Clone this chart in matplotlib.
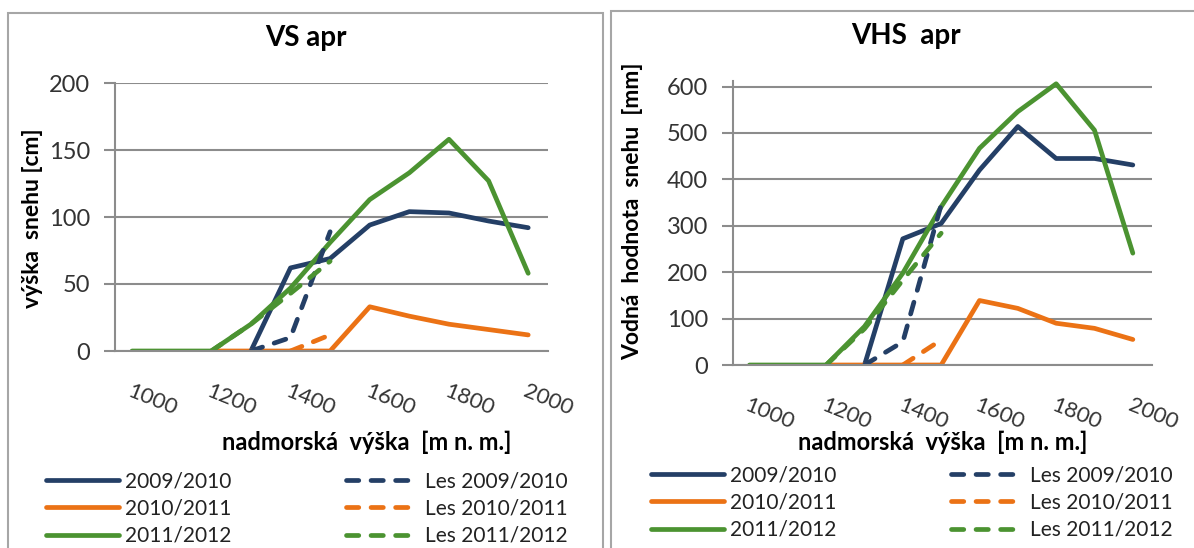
import numpy as np
import matplotlib
matplotlib.use("Agg")
import matplotlib.pyplot as plt
from matplotlib.patches import Rectangle
from matplotlib.lines import Line2D

plt.rcParams['font.family'] = ['Lato', 'DejaVu Sans']

nan = np.nan
elev = [1000, 1100, 1200, 1300, 1400, 1500, 1600, 1700, 1800, 1900, 2000]
tick_labels = ['1000', '1200', '1400', '1600', '1800', '2000']

# VS apr - snow depth [cm]
vs_0910 = [nan, nan, nan, 0, 62, 69, 94, 104, 103, 97, 92]
vs_1011 = [nan, nan, 0, 0, 0, 0, 33, 26, 20, 16, 12]
vs_1112 = [0, 0, 0, 20, 47, 81, 113, 133, 158, 127, 58]
vs_les_0910 = [nan, nan, nan, 0, 10, 89, nan, nan, nan, nan, nan]
vs_les_1011 = [nan, nan, nan, nan, 0, 12, nan, nan, nan, nan, nan]
vs_les_1112 = [nan, nan, 0, 20, 43, 67, nan, nan, nan, nan, nan]

# VHS apr - snow water equivalent [mm]
vhs_0910 = [nan, nan, nan, 0, 272, 305, 420, 514, 445, 445, 431]
vhs_1011 = [nan, nan, 0, 0, 0, 0, 139, 122, 90, 79, 55]
vhs_1112 = [0, 0, 0, 83, 198, 341, 467, 546, 606, 506, 241]
vhs_les_0910 = [nan, nan, nan, 0, 50, 345, nan, nan, nan, nan, nan]
vhs_les_1011 = [nan, nan, nan, nan, 0, 54, nan, nan, nan, nan, nan]
vhs_les_1112 = [nan, nan, 0, 78, 183, 284, nan, nan, nan, nan, nan]

labels = ['2009/2010', '2010/2011', '2011/2012',
          'Les 2009/2010', 'Les 2010/2011', 'Les 2011/2012']
colors = ['#243F66', '#EB7215', '#4B9331']
grid_c = '#8C8C8C'
LW = 3.4
DASH = (0, (2.6, 2.6))
W, H = 1194, 548

fig = plt.figure(figsize=(W / 100, H / 100), dpi=100)


def fx(p):
    return p / W


def fy(p):
    return 1 - p / H


# panel borders
fig.patches.append(Rectangle((fx(8), fy(560)), fx(603) - fx(8), fy(13) - fy(560),
                             transform=fig.transFigure, fill=False, ec='#A6A6A6', lw=1.5))
fig.patches.append(Rectangle((fx(611), fy(560)), fx(1210) - fx(611), fy(11) - fy(560),
                             transform=fig.transFigure, fill=False, ec='#A6A6A6', lw=1.5))


def draw(ax, solid, dashed, ymax, ystep):
    x = np.arange(len(elev))
    for vals, c in zip(solid, colors):
        ax.plot(x, vals, color=c, lw=LW, solid_capstyle='round', solid_joinstyle='round')
    for vals, c in zip(dashed, colors):
        ax.plot(x, vals, color=c, lw=LW, ls=DASH, dash_capstyle='round')
    ax.set_xlim(-0.43, 10.5)
    ax.set_ylim(0, ymax)
    ax.set_yticks(np.arange(0, ymax + 1, ystep))
    ax.grid(axis='y', color=grid_c, lw=1.5)
    ax.set_axisbelow(True)
    for s in ['top', 'right']:
        ax.spines[s].set_visible(False)
    for s in ['left', 'bottom']:
        ax.spines[s].set_color(grid_c)
        ax.spines[s].set_linewidth(1.5)
    ax.tick_params(axis='y', length=8, width=1.5, color=grid_c, pad=10,
                   labelsize=17, labelcolor='#333333')
    ax.set_xticks(x[::2])
    ax.set_xticklabels(tick_labels, rotation=-22, ha='left', va='top',
                       rotation_mode='anchor', fontsize=16, color='#333333')
    ax.tick_params(axis='x', length=0, pad=22)


ax1 = fig.add_axes([fx(115), fy(351), fx(548) - fx(115), fy(83) - fy(351)])
draw(ax1, [vs_0910, vs_1011, vs_1112], [vs_les_0910, vs_les_1011, vs_les_1112], 200, 50)

ax2 = fig.add_axes([fx(733), fy(365), fx(1152) - fx(733), fy(81) - fy(365)])
draw(ax2, [vhs_0910, vhs_1011, vhs_1112], [vhs_les_0910, vhs_les_1011, vhs_les_1112], 612, 100)
ax2.set_yticks(np.arange(0, 601, 100))

fig.text(fx(306), fy(38), 'VS apr', ha='center', va='center', fontsize=20, fontweight='bold')
fig.text(fx(906), fy(36), 'VHS  apr', ha='center', va='center', fontsize=20, fontweight='bold')
fig.text(fx(367), fy(442), 'nadmorská  výška  [m n. m.]', ha='center', va='center',
         fontsize=17, fontweight='bold')
fig.text(fx(943), fy(442), 'nadmorská  výška  [m n. m.]', ha='center', va='center',
         fontsize=17, fontweight='bold')
fig.text(fx(33), fy(218), 'výška  snehu [cm]', ha='center', va='center', rotation=90,
         fontsize=16.5, fontweight='bold')
fig.text(fx(633), fy(211), 'Vodná  hodnota  snehu  [mm]', ha='center', va='center', rotation=90,
         fontsize=16.5, fontweight='bold')

handles = [Line2D([], [], color=c, lw=LW, solid_capstyle='round') for c in colors] + \
          [Line2D([], [], color=c, lw=LW, ls=DASH, dash_capstyle='round') for c in colors]

for x0, y0 in [(46, 471), (651, 465)]:
    fig.legend(handles, labels, ncol=2, loc='upper left', bbox_to_anchor=(fx(x0), fy(y0)),
               frameon=False, fontsize=15, handlelength=3.5, handletextpad=0.3,
               columnspacing=5.5, labelspacing=0.36, borderpad=0, borderaxespad=0,
               labelcolor='#222222')

fig.savefig('out.png', dpi=100)
